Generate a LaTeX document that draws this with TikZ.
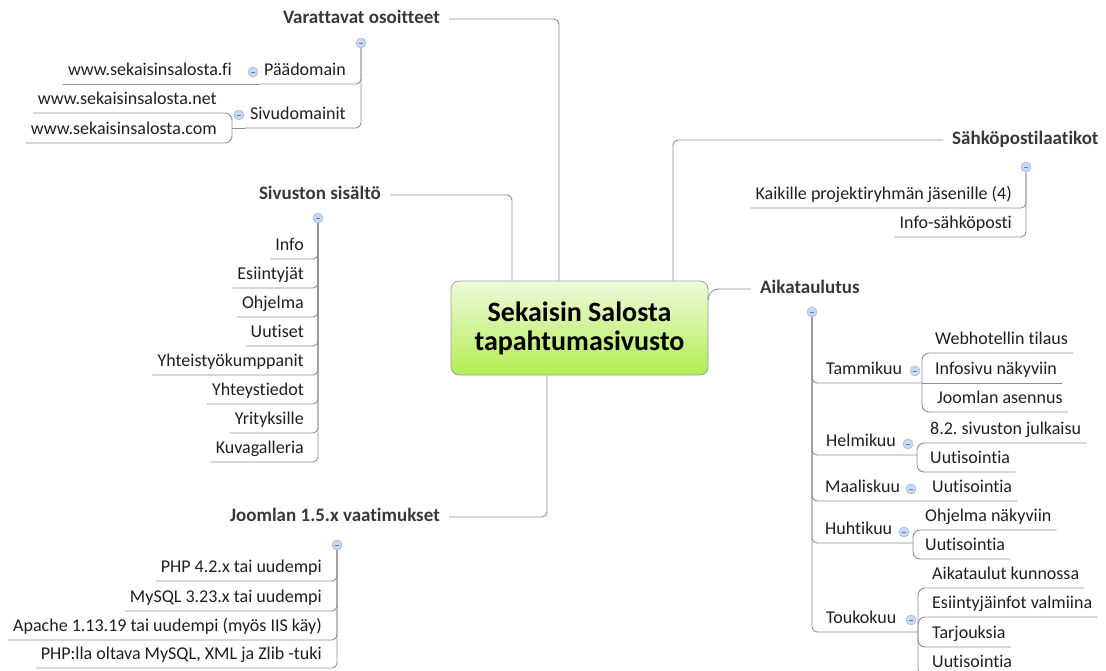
\documentclass[tikz,border=0pt]{standalone}
\usepackage{fontspec}
\setmainfont{Carlito}[Ligatures=NoCommon]
\usetikzlibrary{calc}
\frenchspacing

\definecolor{linegray}{HTML}{8E8E8E}
\definecolor{foldfill}{HTML}{C9D8F2}
\definecolor{folddraw}{HTML}{9CB4E0}
\definecolor{roottop}{HTML}{EEFADA}
\definecolor{rootbot}{HTML}{B3ED52}

\tikzset{
	conn/.style={draw=linegray, line width=0.9pt, rounded corners=5pt},
	bracket/.style={conn, rounded corners=7pt},
	topic/.style={font=\fontsize{19}{22}\selectfont\bfseries, text=black!78, inner xsep=9pt, inner ysep=0pt, text height=13pt, text depth=4pt},
	leaf/.style={font=\fontsize{18}{21}\selectfont, text=black!88, inner xsep=5pt, inner ysep=0pt, text height=12pt, text depth=8pt},
	fold/.style={circle, draw=folddraw, fill=foldfill, line width=0.5pt, minimum size=10pt, inner sep=0pt,
		path picture={\draw[folddraw!70!black, line width=0.6pt] ([xshift=-2.2pt]path picture bounding box.center) -- ([xshift=2.2pt]path picture bounding box.center);}},
}

\begin{document}
\begin{tikzpicture}[x=1pt, y=-1pt]
		%%%%% START %%%%%
		\useasboundingbox (0, 0) rectangle (1106, 670);
		\clip (0, 0) rectangle (1106, 670);
		
		\node[draw=black!38, line width=0.8pt, rounded corners=8pt, top color=roottop, bottom color=rootbot, minimum width=257pt, minimum height=94pt, align=center, font=\fontsize{28}{29}\selectfont\bfseries] (root) at (579.5, 328) {Sekaisin Salosta\\tapahtumasivusto};
		
		\node[topic, anchor=east] (vat) at (449, 19) {Varattavat osoitteet};
		\node[topic, anchor=east] (sis) at (390, 195) {Sivuston sisältö};
		\node[topic, anchor=east] (joo) at (449, 517) {Joomlan 1.5.x vaatimukset};
		\node[topic, anchor=west] (sah) at (943, 140) {Sähköpostilaatikot};
		\node[topic, anchor=west] (aik) at (751, 289) {Aikataulutus};
		
		\draw[conn] ($(root.north)+(-20.5, 0)$) |- (vat.east);
		\draw[conn] ($(root.north)+(-67.5, 0)$) |- (sis.east);
		\draw[conn] ($(root.north)+(93.5, 0)$) |- (sah.west);
		\draw[conn] ($(root.south)+(-32.5, 0)$) |- (joo.east);
		\draw[conn, rounded corners=10pt] ($(root.north east)+(0, 19)$) |- (aik.west);
		
		% varattavat osoitteet
		\node[fold] (fvat) at (361, 43) {};
		\node[leaf, anchor=south east] (pd) at (351, 84) {Päädomain};
		\node[leaf, anchor=south east] (sd) at (351, 128) {Sivudomainit};
		\node[leaf, anchor=south east] (fi) at (237, 84) {www.sekaisinsalosta.fi};
		\node[leaf, anchor=south east] (net) at (222, 113) {www.sekaisinsalosta.net};
		\node[leaf, anchor=south east] (com) at (222, 143) {www.sekaisinsalosta.com};
		\node[fold] (fpd) at (253, 72) {};
		\node[fold] (fsd) at (239, 115) {};
		\coordinate (sdb) at (232, 128);
		\draw[conn] (fvat.south) |- (pd.south west);
		\draw[conn] (fvat.south) |- (sd.south west);
		\draw[conn] (pd.south west) -- (fi.south west);
		\draw[conn] (sd.south west) -- (sdb);
		\draw[bracket] (sdb) |- (net.south west);
		\draw[bracket] (sdb) |- (com.south west);
		
		% sivuston sisalto
		\node[fold] (fsis) at (318, 218) {};
		\node[leaf, anchor=south east] (info) at (309, 259) {Info};
		\node[leaf, anchor=south east] (esi) at (309, 288) {Esiintyjät};
		\node[leaf, anchor=south east] (ohj) at (309, 317) {Ohjelma};
		\node[leaf, anchor=south east] (uut) at (309, 346) {Uutiset};
		\node[leaf, anchor=south east] (yht) at (309, 375) {Yhteistyökumppanit};
		\node[leaf, anchor=south east] (yts) at (309, 404) {Yhteystiedot};
		\node[leaf, anchor=south east] (yri) at (309, 433) {Yrityksille};
		\node[leaf, anchor=south east] (kuv) at (309, 462) {Kuvagalleria};
		\draw[conn] (fsis.south) |- (info.south west);
		\draw[conn] (fsis.south) |- (esi.south west);
		\draw[conn] (fsis.south) |- (ohj.south west);
		\draw[conn] (fsis.south) |- (uut.south west);
		\draw[conn] (fsis.south) |- (yht.south west);
		\draw[conn] (fsis.south) |- (yts.south west);
		\draw[conn] (fsis.south) |- (yri.south west);
		\draw[conn] (fsis.south) |- (kuv.south west);
		
		% joomla
		\node[fold] (fjoo) at (337, 545) {};
		\node[leaf, anchor=south east] (php) at (327, 581) {PHP 4.2.x tai uudempi};
		\node[leaf, anchor=south east] (sql) at (327, 611) {MySQL 3.23.x tai uudempi};
		\node[leaf, anchor=south east] (apa) at (327, 640) {Apache 1.13.19 tai uudempi (myös IIS käy)};
		\node[leaf, anchor=south east] (ext) at (327, 668) {PHP:lla oltava MySQL, XML ja Zlib -tuki};
		\draw[conn] (fjoo.south) |- (php.south west);
		\draw[conn] (fjoo.south) |- (sql.south west);
		\draw[conn] (fjoo.south) |- (apa.south west);
		\draw[conn] (fjoo.south) |- (ext.south west);
		
		% sahkopostilaatikot
		\node[fold] (fsah) at (1026, 167) {};
		\node[leaf, anchor=south east] (kaik) at (1017, 208) {Kaikille projektiryhmän jäsenille (4)};
		\node[leaf, anchor=south east] (isp) at (1017, 237) {Info-sähköposti};
		\draw[conn] (fsah.south) |- (kaik.south west);
		\draw[conn] (fsah.south) |- (isp.south west);
		
		% aikataulutus
		\node[fold] (faik) at (812, 312) {};
		\node[leaf, anchor=south west] (tam) at (821, 383) {Tammikuu};
		\node[leaf, anchor=south west] (hel) at (821, 455) {Helmikuu};
		\node[leaf, anchor=south west] (maa) at (820, 501) {Maaliskuu};
		\node[leaf, anchor=south west] (huh) at (820, 543) {Huhtikuu};
		\node[leaf, anchor=south west] (tou) at (821, 632) {Toukokuu};
		\node[fold] (ftam) at (915, 371) {};
		\node[fold] (fhel) at (908, 444) {};
		\node[fold] (fmaa) at (911, 489) {};
		\node[fold] (fhuh) at (904, 532) {};
		\node[fold] (ftou) at (911, 620) {};
		\coordinate (tamb) at (922, 383);
		\coordinate (helb) at (917, 455);
		\coordinate (huhb) at (913, 543);
		\coordinate (toub) at (918, 632);
		
		\node[leaf, anchor=south west] (web) at (930, 353) {Webhotellin tilaus};
		\node[leaf, anchor=south west] (inf) at (930, 383) {Infosivu näkyviin};
		\node[leaf, anchor=south west] (jas) at (932, 412) {Joomlan asennus};
		\node[leaf, anchor=south west] (jul) at (925, 443) {8.2. sivuston julkaisu};
		\node[leaf, anchor=south west] (hu1) at (925, 472) {Uutisointia};
		\node[leaf, anchor=south west] (mu1) at (927, 501) {Uutisointia};
		\node[leaf, anchor=south west] (onk) at (920, 530) {Ohjelma näkyviin};
		\node[leaf, anchor=south west] (hu2) at (920, 559) {Uutisointia};
		\node[leaf, anchor=south west] (aku) at (927, 588) {Aikataulut kunnossa};
		\node[leaf, anchor=south west] (esv) at (927, 617) {Esiintyjäinfot valmiina};
		\node[leaf, anchor=south west] (tar) at (927, 647) {Tarjouksia};
		\node[leaf, anchor=south west] (tu1) at (927, 676) {Uutisointia};
		
		\draw[conn] (faik.south) |- (tamb);
		\draw[conn] (faik.south) |- (helb);
		\draw[conn] (faik.south) |- (mu1.south east);
		\draw[conn] (faik.south) |- (huhb);
		\draw[conn] (faik.south) |- (toub);
		
		\draw[bracket] (tamb) |- (web.south east);
		\draw[conn] (tamb) -- (inf.south east);
		\draw[bracket] (tamb) |- (jas.south east);
		\draw[bracket] (helb) |- (jul.south east);
		\draw[bracket] (helb) |- (hu1.south east);
		\draw[bracket] (huhb) |- (onk.south east);
		\draw[bracket] (huhb) |- (hu2.south east);
		\draw[bracket] (toub) |- (aku.south east);
		\draw[bracket] (toub) |- (esv.south east);
		\draw[bracket] (toub) |- (tar.south east);
		\draw[bracket] (toub) |- (tu1.south east);
		
		%%%%% END %%%%%
	\end{tikzpicture}
\end{document}
